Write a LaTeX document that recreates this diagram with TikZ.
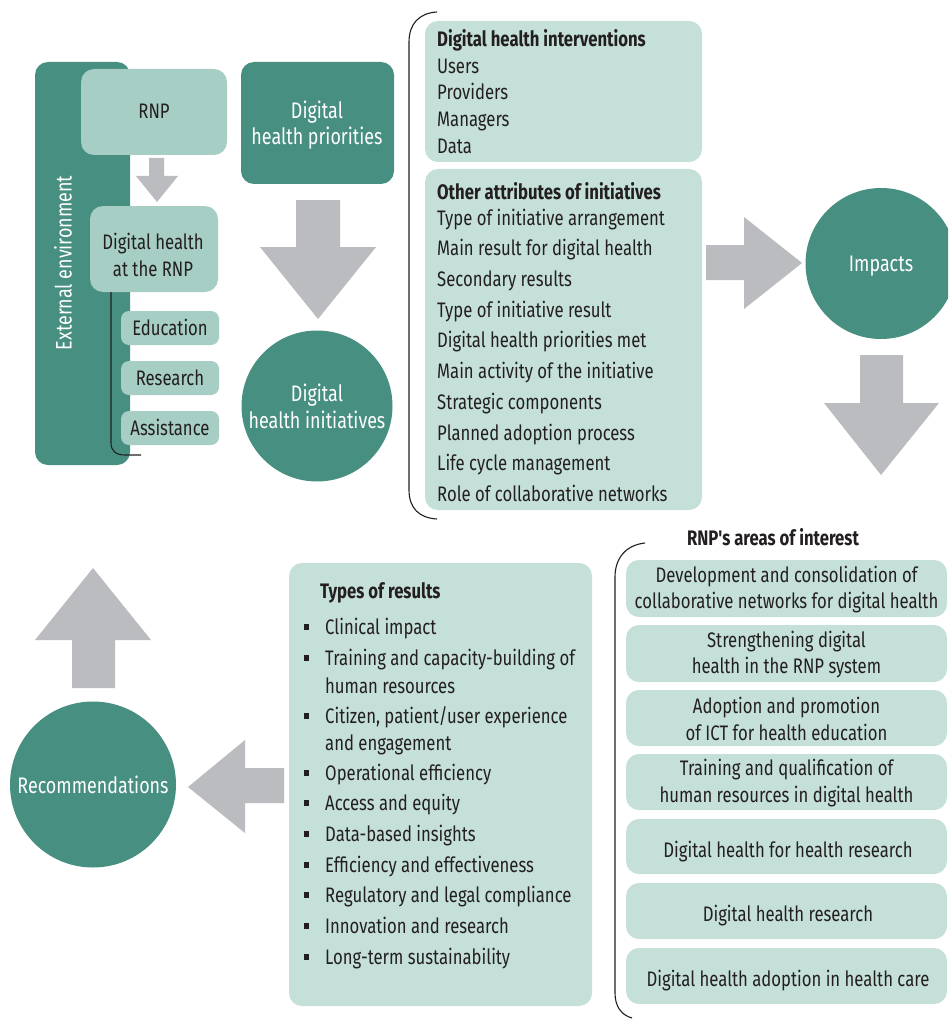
\documentclass[tikz,border=0pt]{standalone}
\usepackage{fontspec}
\setmainfont[FakeStretch=0.795, Ligatures=TeXOff]{Fira Sans}
\usetikzlibrary{fit}
\definecolor{darkteal}{RGB}{71,143,129}
\definecolor{midteal}{RGB}{166,206,196}
\definecolor{paleteal}{RGB}{197,224,217}
\definecolor{arrowgray}{RGB}{187,188,192}
\definecolor{inkc}{RGB}{35,31,32}
\begin{document}
\begin{tikzpicture}[x=1pt,y=-1pt,
  txt/.style={font=\fontsize{21}{26.5}\selectfont, text=inkc, inner sep=0pt},
  wtxt/.style={txt, font=\fontsize{22.5}{26.5}\selectfont, text=white},
  hd/.style={txt, font=\fontsize{21}{26.5}\selectfont\bfseries},
  darkbox/.style={fill=darkteal, rounded corners=13pt, inner sep=0pt},
  midbox/.style={fill=midteal, rounded corners=13pt, inner sep=0pt},
  smallbox/.style={fill=midteal, rounded corners=8pt, inner sep=0pt},
  palebox/.style={fill=paleteal, rounded corners=13pt, inner sep=0pt},
  bigcircle/.style={circle, fill=darkteal, inner sep=0pt},
  blockarrow/.style={fill=arrowgray},
  bracket/.style={draw=inkc, line width=1.1pt},
  bullet/.style={fill=inkc, minimum size=5.5pt, inner sep=0pt}]
\clip (0,0) rectangle (948,1019);
\fill[white] (0,0) rectangle (948,1019);

% ---- left block: environment, RNP and its areas
\node[darkbox, fit={(35,62) (130,465)}] (extenv) {};
\node[wtxt, rotate=90] (extenvlabel) at (63,263) {External environment};
\node[midbox, fit={(81,69) (227,155)}] (rnp) {};
\node[txt, anchor=mid] (rnplabel) at (154,115.5) {RNP};
\fill[blockarrow] (149,158) -- (164,158) -- (164,176) -- (178,176) -- (157,202) -- (136,176) -- (149,176) -- cycle;
\node[midbox, fit={(90,206) (218,292)}] (dhrnp) {};
\node[txt, align=center] (dhrnplabel) at (153,255) {Digital health\\at the RNP};
\draw[bracket] (111,292) -- (111,443) .. controls (111,451) and (116,455) .. (125,455) -- (141,455);
\node[smallbox, fit={(121,311) (219,345)}] (edu) {};
\node[txt, anchor=mid] at (170,332.5) {Education};
\node[smallbox, fit={(121,361) (219,395)}] (res) {};
\node[txt, anchor=mid] at (170,382.5) {Research};
\node[smallbox, fit={(121,411) (219,445)}] (asst) {};
\node[txt, anchor=mid] at (170,432.5) {Assistance};

% ---- priorities and initiatives
\node[darkbox, fit={(241,62) (394,184)}] (dhp) {};
\node[wtxt, align=center] (dhplabel) at (317,125) {Digital\\health priorities};
\fill[blockarrow] (296,200) -- (340,200) -- (340,247) -- (376,247) -- (318,319) -- (260,247) -- (296,247) -- cycle;
\node[bigcircle, minimum size=151pt] (dhi) at (317,406) {};
\node[wtxt, align=center] (dhilabel) at (317,406.5) {Digital\\health initiatives};

% ---- attributes of initiatives
\draw[bracket] (437,12) .. controls (419,13) and (409,24) .. (409,42) -- (409,490) .. controls (409,508) and (419,518) .. (437,519);
\node[palebox, fit={(425,21) (702,162)}] (interv) {};
\node[hd, anchor=mid west] (intervhd) at (437,43.5) {Digital health interventions};
\foreach \t [count=\i] in {Users,Providers,Managers,Data}
  \node[txt, anchor=mid west] (iv\i) at (437,{70.5+26.7*(\i-1)}) {\t};
\node[palebox, fit={(425,169) (702,510)}] (attrs) {};
\node[hd, anchor=mid west] (attrshd) at (437,196.5) {Other attributes of initiatives};
\foreach \t [count=\i] in {Type of initiative arrangement,Main result for digital health,Secondary results,Type of initiative result,Digital health priorities met,Main activity of the initiative,Strategic components,Planned adoption process,Life cycle management,Role of collaborative networks}
  \node[txt, anchor=mid west] (oa\i) at (437,{222.5+30.7*(\i-1)}) {\t};

% ---- impacts
\fill[blockarrow] (706,245) -- (744,245) -- (744,217) -- (802,263) -- (744,309) -- (744,280) -- (706,280) -- cycle;
\node[bigcircle, minimum size=151pt] (impacts) at (881,263.5) {};
\node[wtxt, anchor=mid] (impactslabel) at (881,269) {Impacts};
\fill[blockarrow] (860,355) -- (903,355) -- (903,403) -- (939,403) -- (881,475) -- (824,403) -- (860,403) -- cycle;

% ---- areas of interest
\node[hd, anchor=mid] (areashd) at (773,542.5) {RNP's areas of interest};
\draw[bracket] (645,543) .. controls (626,545) and (615,558) .. (615,577) -- (615,993) .. controls (615,1006) and (621,1015) .. (632,1018);
\node[palebox, fit={(626,560) (947,617)}] (ar1) {};
\node[txt, align=center] at ([yshift=-1pt]ar1.center) {Development and consolidation of\\collaborative networks for digital health};
\node[palebox, fit={(626,625) (947,682)}] (ar2) {};
\node[txt, align=center] at ([yshift=-1pt]ar2.center) {Strengthening digital\\health in the RNP system};
\node[palebox, fit={(626,690) (947,746)}] (ar3) {};
\node[txt, align=center] at ([yshift=-1pt]ar3.center) {Adoption and promotion\\of ICT for health education};
\node[palebox, fit={(626,754) (947,810)}] (ar4) {};
\node[txt, align=center] at ([yshift=-1pt]ar4.center) {Training and qualification of\\human resources in digital health};
\node[palebox, fit={(626,819) (947,874)}] (ar5) {};
\node[txt, anchor=mid] at (788,854.5) {Digital health for health research};
\node[palebox, fit={(626,883) (947,939)}] (ar6) {};
\node[txt, anchor=mid] at (788,918.5) {Digital health research};
\node[palebox, fit={(626,948) (947,1004)}] (ar7) {};
\node[txt, anchor=mid] at (788,983.5) {Digital health adoption in health care};

% ---- types of results
\node[palebox, fit={(289,563) (592,1006)}] (types) {};
\node[hd, anchor=mid west] (typeshd) at (320,595.5) {Types of results};
\node[txt, anchor=mid west] (t1) at (325,631.5) {Clinical impact};
\node[txt, anchor=mid west] (t2) at (325,662.5) {Training and capacity-building of};
\node[txt, anchor=mid west] (t2b) at (325,690.5) {human resources};
\node[txt, anchor=mid west] (t3) at (325,720.5) {Citizen, patient/user experience};
\node[txt, anchor=mid west] (t3b) at (325,747.5) {and engagement};
\node[txt, anchor=mid west] (t4) at (325,777.5) {Operational efficiency};
\node[txt, anchor=mid west] (t5) at (325,807.5) {Access and equity};
\node[txt, anchor=mid west] (t6) at (325,838.5) {Data-based insights};
\node[txt, anchor=mid west] (t7) at (325,869.5) {Efficiency and effectiveness};
\node[txt, anchor=mid west] (t8) at (325,899.5) {Regulatory and legal compliance};
\node[txt, anchor=mid west] (t9) at (325,930.5) {Innovation and research};
\node[txt, anchor=mid west] (t10) at (325,961.5) {Long-term sustainability};
\foreach \yy [count=\i] in {627,658,716,773,803,834,865,895,926,957}
  \node[bullet] (bl\i) at (306.5,\yy) {};

% ---- recommendations
\fill[blockarrow] (284,768) -- (284,803) -- (245,803) -- (245,833) -- (188,787) -- (245,740) -- (245,768) -- cycle;
\node[bigcircle, minimum size=166pt] (recs) at (93,784.5) {};
\node[wtxt, anchor=mid] (recslabel) at (93,790.5) {Recommendations};
\fill[blockarrow] (72,688) -- (115,688) -- (115,640) -- (151,640) -- (93,568) -- (35,640) -- (72,640) -- cycle;
\end{tikzpicture}
\end{document}
